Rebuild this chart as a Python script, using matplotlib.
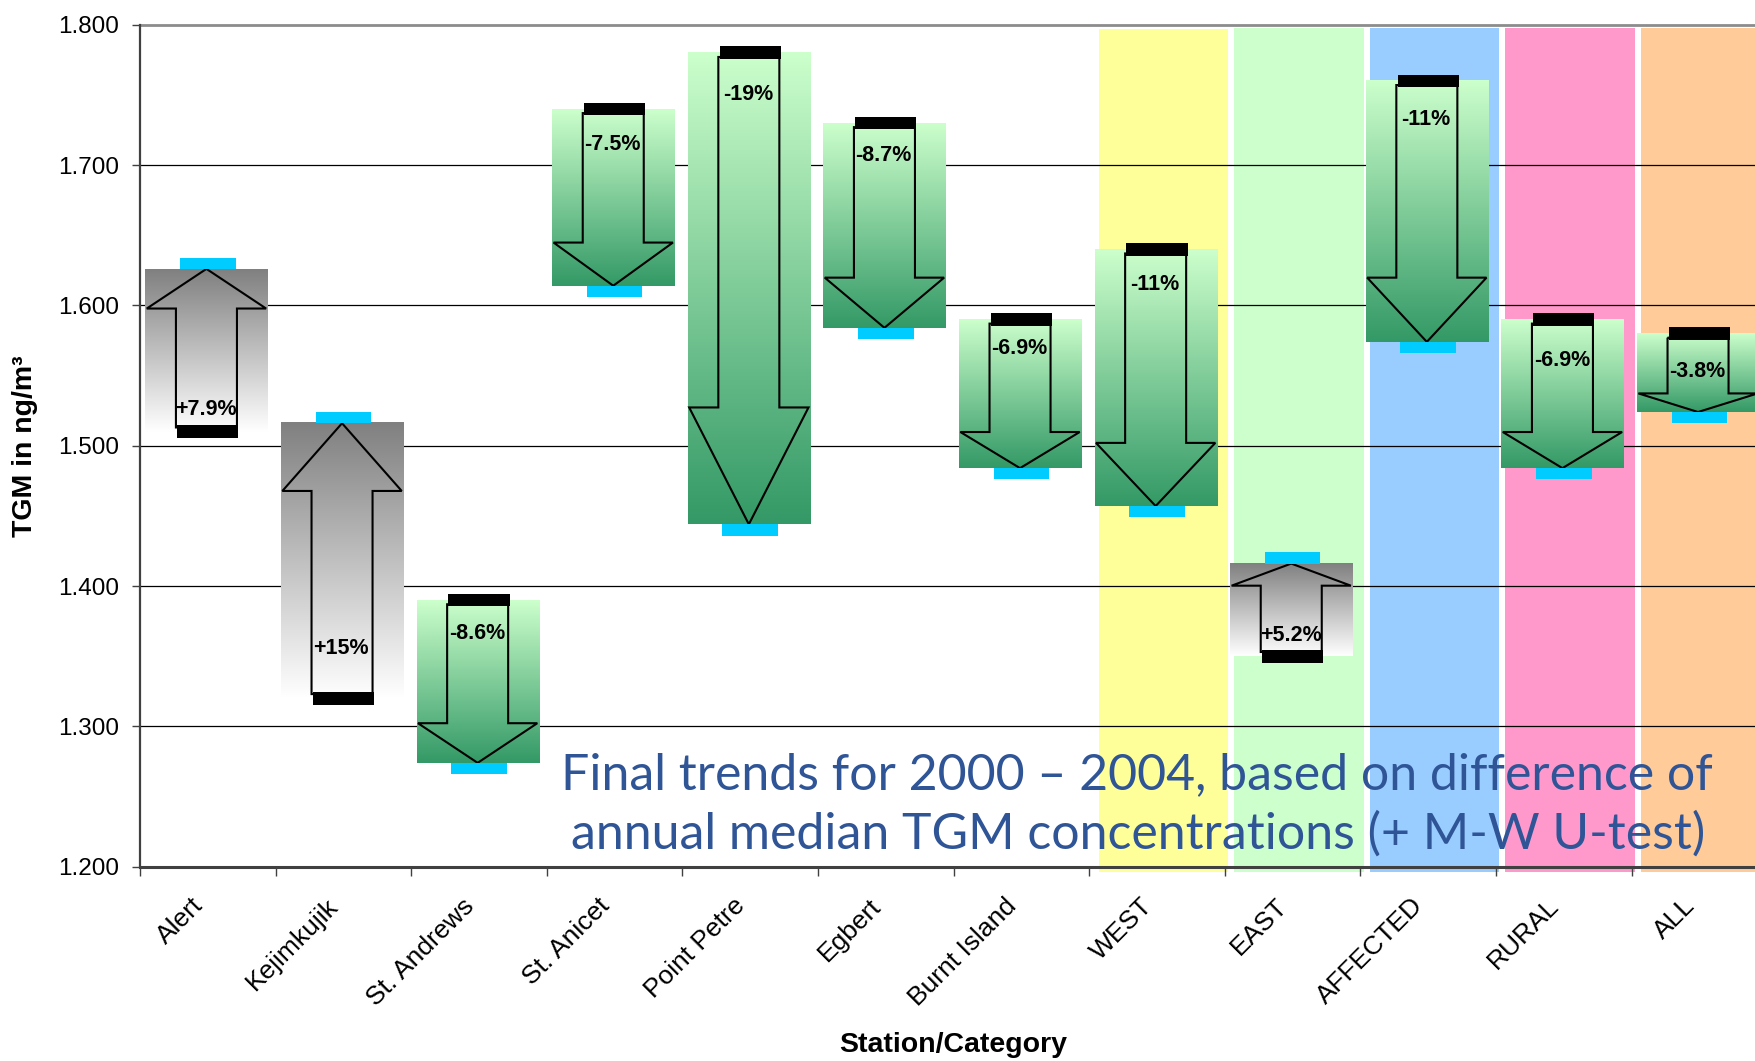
import numpy as np
import matplotlib
matplotlib.use("Agg")
import matplotlib.pyplot as plt
from matplotlib.patches import Rectangle, Polygon
from matplotlib.colors import to_rgb

plt.rcParams["font.family"] = ["Liberation Sans", "DejaVu Sans"]

# Annual median TGM (ng/m3) per station / category
stations = ["Alert", "Kejimkujik", "St. Andrews", "St. Anicet", "Point Petre",
            "Egbert", "Burnt Island", "WEST", "EAST", "AFFECTED", "RURAL", "ALL"]
tgm_2000 = [1.510, 1.320, 1.390, 1.740, 1.780, 1.730, 1.590, 1.640, 1.350, 1.760, 1.590, 1.580]
tgm_2004 = [1.630, 1.520, 1.270, 1.610, 1.440, 1.580, 1.480, 1.453, 1.420, 1.570, 1.480, 1.520]
category_groups = ["WEST", "EAST", "AFFECTED", "RURAL", "ALL"]
y_ticks = [1.2, 1.3, 1.4, 1.5, 1.6, 1.7, 1.8]

# layout / style
band_colors = ["#ffff99", "#ccffcc", "#99ccff", "#ff99cc", "#ffcc99"]
label_offsets_px = [22, 50, -33, -36, -42, -33, -29, -35, 21, -39, -41, -38]

W, H = 1756, 1061
fig = plt.figure(figsize=(W / 100, H / 100), dpi=100)
ax_left, ax_bottom_px, ax_top_px = 140, 866.7, 24.7
ax = fig.add_axes([ax_left / W, 1 - ax_bottom_px / H, 1 - ax_left / W,
                   (ax_bottom_px - ax_top_px) / H])
cat_px = 135.6
xmax = (W - ax_left) / cat_px
ax.set_xlim(0, xmax)
ax.set_ylim(1.2, 1.8)

# coloured background bands for the aggregated categories
for name, col in zip(category_groups, band_colors):
    i = stations.index(name)
    top = 1.7975 if name != "WEST" else 1.797
    ax.add_patch(Rectangle((i + 0.07, 1.196), 0.955, top - 1.196, facecolor=col,
                           edgecolor="none", zorder=0.5, clip_on=False))

# horizontal gridlines
for y in y_ticks[1:-1]:
    ax.axhline(y, color="black", lw=0.9, zorder=1)
ax.axhline(1.8, color="#8c8c8c", lw=2.0, zorder=1, clip_on=False)


def gradient(c_top, c_bot, n=256):
    a = np.array(to_rgb(c_top))
    b = np.array(to_rgb(c_bot))
    t = np.linspace(0, 1, n)[:, None]
    return (a * (1 - t) + b * t)[:, None, :]


box_w = 0.9
shaft_w = 0.45
head_w = 0.88
for i, (v0, v1) in enumerate(zip(tgm_2000, tgm_2004)):
    cx = i + 0.49
    up = v1 > v0
    inward = -1 if up else 1          # direction from the 2004 end back into the box
    edge1 = v1 + inward * 0.004       # box edge at the 2004 end
    lo, hi = min(v0, edge1), max(v0, edge1)
    if up:
        img = gradient("#808080", "#ffffff")
    else:
        img = gradient("#ccffcc", "#339966")
    ax.imshow(img, extent=[cx - box_w / 2, cx + box_w / 2, lo, hi],
              aspect="auto", origin="upper", zorder=2, interpolation="bilinear")

    # block arrow outline from 2000 value to 2004 value
    tail = v0 + 0.003 if up else v0 - 0.003
    tip = edge1
    base = tip + 0.25 * (tail - tip)
    pts = [(cx - shaft_w / 2, tail), (cx + shaft_w / 2, tail),
           (cx + shaft_w / 2, base), (cx + head_w / 2, base), (cx, tip),
           (cx - head_w / 2, base), (cx - shaft_w / 2, base)]
    ax.add_patch(Polygon(pts, closed=True, fill=False, edgecolor="black",
                         lw=1.5, zorder=3, joinstyle="miter"))

    # 2000 (black) and 2004 (cyan) markers
    ax.add_patch(Rectangle((i + 0.5 - 0.225, v0 - 0.0045), 0.45, 0.009,
                           facecolor="black", edgecolor="none", zorder=4))
    ax.add_patch(Rectangle((i + 0.5 - 0.205, v1 - 0.004), 0.41, 0.008,
                           facecolor="#00ccff", edgecolor="none", zorder=4))

    pct = (v1 / v0 - 1) * 100
    ax.annotate(f"{pct:+.2g}%", xy=(i + 0.5, v0),
                xytext=(-2, label_offsets_px[i]), textcoords="offset pixels",
                ha="center", va="center", fontsize=15.5, fontweight="bold",
                zorder=5)

ax.set_ylim(1.2, 1.8)
ax.set_xlim(0, xmax)

# axes styling
for s in ["top", "right"]:
    ax.spines[s].set_visible(False)
ax.spines["left"].set_color("#404040")
ax.spines["left"].set_linewidth(1.6)
ax.spines["bottom"].set_color("#404040")
ax.spines["bottom"].set_linewidth(2.2)
ax.spines["left"].set_zorder(6)
ax.spines["bottom"].set_zorder(6)

ax.set_yticks(y_ticks)
ax.set_yticklabels([f"{v:.3f}" for v in y_ticks])
ax.tick_params(axis="y", direction="out", length=6, width=1, color="#404040",
               labelsize=17.5, pad=9)
ax.set_xticks(np.arange(0, 12))
ax.set_xticklabels([])
ax.tick_params(axis="x", direction="out", length=6.5, width=1, color="#404040")

for i, name in enumerate(stations):
    ax.annotate(name, xy=(i + 0.5, 0), xycoords=("data", "axes fraction"),
                xytext=(-17, -27), textcoords="offset pixels",
                ha="right", va="top", rotation=45, rotation_mode="anchor",
                fontsize=19, annotation_clip=False)

fig.text(953 / W, 1 - 1045 / H, "Station/Category", ha="center", va="center",
         fontsize=20.5, fontweight="bold")
fig.text(25 / W, 1 - 446 / H, "TGM in ng/m³", ha="center", va="center",
         rotation=90, fontsize=20.5, fontweight="bold")

blue = "#2f5597"
fig.text(1137 / W, 1 - 775 / H,
         "Final trends for 2000 \u2013 2004, based on difference of",
         ha="center", va="center", fontsize=36, color=blue, family="Lato")
fig.text(1138 / W, 1 - 834 / H,
         "annual median TGM concentrations (+ M-W U-test)",
         ha="center", va="center", fontsize=36, color=blue, family="Lato")

fig.savefig("out.png", dpi=100)
